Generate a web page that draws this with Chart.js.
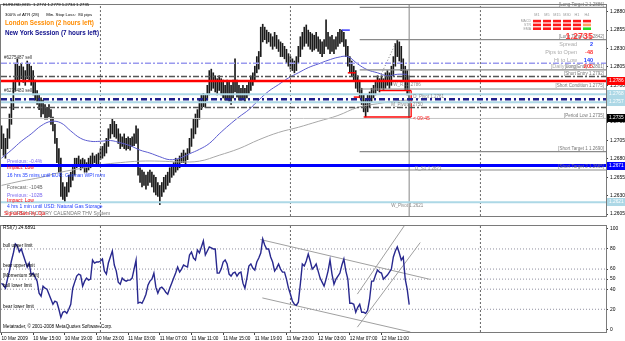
<!DOCTYPE html>
<html><head><meta charset="utf-8">
<script src="https://cdn.jsdelivr.net/npm/chart.js@4.4.1/dist/chart.umd.min.js"></script>
<style>
html,body{margin:0;padding:0;background:#fff;}
#wrap{position:relative;width:625px;height:341px;overflow:hidden;background:#fff;}
#main{position:absolute;left:0;top:0;}
#rsi{position:absolute;left:0;top:221px;}
</style></head><body>
<div id="wrap">
<canvas id="main" width="625" height="221"></canvas>
<canvas id="rsi" width="625" height="120"></canvas>
</div>
<script>
const $ = s => document.querySelector(s);

/* ===== data (EURUSD M15) ===== */
const highs = [
 1.2725,1.2714,1.2708,1.2721,1.2741,1.2760,1.2787,1.2810,1.2816,1.2806,
 1.2810,1.2805,1.2800,1.2813,1.2809,1.2806,1.2800,1.2787,1.2773,1.2767,
 1.2763,1.2760,1.2754,1.2750,1.2754,1.2747,1.2737,1.2727,1.2708,1.2694,
 1.2681,1.2648,1.2642,1.2648,1.2658,1.2662,1.2671,1.2681,1.2681,1.2684,
 1.2679,1.2681,1.2679,1.2675,1.2681,1.2684,1.2688,1.2684,1.2686,
 1.2688,1.2694,1.2697,1.2701,1.2708,1.2721,1.2727,1.2734,1.2731,1.2727,
 1.2721,1.2714,1.2710,1.2714,1.2708,1.2710,1.2708,1.2710,1.2714,1.2725,
 1.2721,1.2668,1.2665,1.2662,1.2658,1.2662,1.2665,1.2662,1.2658,1.2655,
 1.2648,1.2644,1.2648,1.2655,1.2658,1.2662,1.2668,1.2671,1.2675,1.2681,
 1.2679,1.2684,1.2688,1.2692,1.2688,1.2694,1.2708,1.2721,1.2734,1.2741,
 1.2747,1.2760,1.2767,1.2769,1.2767,1.2780,1.2800,1.2802,1.2797,1.2793,
 1.2789,1.2793,1.2789,1.2787,1.2780,1.2787,1.2784,1.2780,1.2787,1.2816,
 1.2787,1.2780,1.2776,1.2780,1.2776,1.2780,1.2784,1.2793,1.2797,1.2806,
 1.2819,1.2826,1.2859,1.2863,1.2859,1.2855,1.2852,1.2850,1.2846,1.2852,
 1.2848,1.2842,1.2839,1.2837,1.2833,1.2829,1.2823,1.2819,1.2816,1.2813,
 1.2819,1.2833,1.2846,1.2852,1.2859,1.2862,1.2855,1.2852,1.2850,1.2848,
 1.2852,1.2846,1.2842,1.2839,1.2842,1.2869,1.2852,1.2846,1.2848,1.2842,
 1.2846,1.2852,1.2856,1.2855,1.2852,1.2842,1.2833,1.2819,1.2813,1.2806,
 1.2800,1.2793,1.2787,1.2776,1.2767,1.2760,1.2767,1.2771,1.2776,1.2780,
 1.2787,1.2793,1.2789,1.2793,1.2789,1.2797,1.2800,1.2797,1.2806,1.2819,
 1.2837,1.2842,1.2839,1.2833,1.2816,1.2806,1.2800,1.2793
];
const lows = [
 1.2694,1.2685,1.2681,1.2694,1.2708,1.2727,1.2747,1.2773,1.2787,1.2780,
 1.2789,1.2784,1.2780,1.2789,1.2787,1.2780,1.2767,1.2760,1.2754,1.2747,
 1.2737,1.2741,1.2734,1.2734,1.2737,1.2727,1.2718,1.2701,1.2675,1.2662,
 1.2629,1.2625,1.2622,1.2629,1.2635,1.2642,1.2651,1.2658,1.2668,1.2671,
 1.2665,1.2668,1.2662,1.2662,1.2665,1.2668,1.2671,1.2675,1.2672,
 1.2671,1.2679,1.2681,1.2684,1.2688,1.2697,1.2708,1.2714,1.2710,1.2708,
 1.2701,1.2694,1.2697,1.2694,1.2692,1.2694,1.2692,1.2697,1.2698,1.2701,
 1.2658,1.2648,1.2642,1.2644,1.2639,1.2644,1.2648,1.2642,1.2635,1.2631,
 1.2629,1.2618,1.2629,1.2635,1.2639,1.2644,1.2648,1.2655,1.2658,1.2662,
 1.2665,1.2668,1.2675,1.2675,1.2671,1.2679,1.2688,1.2697,1.2708,1.2714,
 1.2723,1.2734,1.2747,1.2751,1.2750,1.2760,1.2767,1.2773,1.2776,1.2771,
 1.2767,1.2773,1.2767,1.2763,1.2760,1.2760,1.2758,1.2754,1.2763,1.2771,
 1.2764,1.2760,1.2760,1.2763,1.2758,1.2763,1.2767,1.2773,1.2780,1.2787,
 1.2797,1.2802,1.2819,1.2839,1.2842,1.2837,1.2839,1.2833,1.2829,1.2833,
 1.2830,1.2826,1.2819,1.2819,1.2816,1.2810,1.2806,1.2802,1.2800,1.2797,
 1.2800,1.2810,1.2819,1.2829,1.2833,1.2837,1.2833,1.2829,1.2826,1.2828,
 1.2830,1.2826,1.2823,1.2819,1.2823,1.2833,1.2829,1.2823,1.2826,1.2823,
 1.2829,1.2833,1.2837,1.2839,1.2833,1.2819,1.2806,1.2797,1.2793,1.2787,
 1.2776,1.2771,1.2763,1.2754,1.2744,1.2737,1.2744,1.2750,1.2758,1.2763,
 1.2767,1.2773,1.2771,1.2776,1.2773,1.2776,1.2780,1.2776,1.2780,1.2793,
 1.2806,1.2819,1.2813,1.2800,1.2787,1.2773,1.2767,1.2735
];
const rsi = [
 46,44,41,50,58,68,76,85,83,77, 80,74,68,62,66,54,56,52,48,36,
 33,43,41,40,35,30,25,28,27,20, 12,17,18,16,20,25,41,47,53,55,
 54,43,48,51,49,50,69,66,67, 67,68,70,58,55,66,72,78,64,58,
 47,45,51,49,48,49,49,51,60,69, 26,27,26,30,35,44,48,50,56,42,
 36,41,42,40,37,35,41,46,51,56, 62,57,60,64,63,62,74,77,71,69,
 79,76,82,88,74,78,82,81,80,80, 56,56,60,67,69,65,55,53,56,57,
 53,56,57,46,41,51,63,65,61,59, 67,71,76,90,84,80,80,72,67,58,
 61,65,60,57,57,50,41,35,28,25, 24,27,45,65,63,68,75,68,60,62,
 65,58,51,47,43,50,58,69,55,45, 50,53,56,64,70,58,50,26,26,25,
 17,22,25,17,17,16,19,30,48,48, 54,59,57,56,50,52,54,57,60,72,
 78,82,76,69,72,50,40,24.6891
];
const blueIdx = [0,5,10,15,20,25,30,35,40,45,50,55,60,65,70,75,80,85,90,95,100,105,110,115,120,125,130,135,140,145,150,155,160,165,170,175,180,185,190,195,200,205];
const blueMA = [1.2681,1.2692,1.2704,1.2714,1.2725,1.2731,1.2729,1.2718,1.2708,1.2704,1.2704,1.2705,1.2702,1.2698,1.2692,1.2688,1.2683,1.2679,1.2681,1.2687,1.2693,1.2701,1.2714,1.2726,1.2737,1.2747,1.2760,1.2772,1.2781,1.2790,1.2797,1.2804,1.2809,1.2814,1.2818,1.2819,1.2809,1.2801,1.2797,1.2793,1.2795,1.2795];
const greyIdx = [0,10,20,30,40,50,60,70,80,90,100,110,120,130,140,150,160,170,180,190,200,206];
const greyMA = [1.2644,1.2650,1.2655,1.2662,1.2667,1.2672,1.2675,1.2677,1.2677,1.2676,1.2677,1.2685,1.2694,1.2706,1.2716,1.2723,1.2731,1.2739,1.2750,1.2755,1.2759,1.2760];

const priceTicks = [1.2880,1.2855,1.2830,1.2805,1.2780,1.2755,1.2730,1.2705,1.2680,1.2655,1.2630,1.2605];
const rsiTicks = [0,20,40,50,60,80,100];
const rsiLevels = [80,60,50,40,20];
const rsiLevelNames = ['bull upper limit','bear upper limit','[Momentum Shift]','bull lower limit','bear lower limit'];
const timeBars = [0,16,32,48,64,80,96,112,128,144,160,176,192];
const timeLabels = ['10 Mar 2009','10 Mar 15:00','10 Mar 19:00','10 Mar 23:00','11 Mar 03:00','11 Mar 07:00','11 Mar 11:00','11 Mar 15:00','11 Mar 19:00','11 Mar 23:00','12 Mar 03:00','12 Mar 07:00','12 Mar 11:00'];
const gridBars = [50,146,242];
const lastBar = 206;

const fullLevels = [1.2810,1.2792,1.2786,1.2768,1.2761,1.2757,1.2750,1.2735,1.2671,1.2621];
const fullNames  = ['','[Short Entry 1.2792]','','','','','','[Period Low 1.2735]','',''];
const partLevels = [1.2886,1.2842,1.2801,1.2775,1.2690,1.2665];
const partNames  = ['Long Target 2','Long Target 1','Long Entry','Short Condition','Short Target 1','Short Target 2'];
const pivotNames = ['W_R1','D_Pivot','M_Pivot','D_S1','W_Pivot'];
const pivotValues = [1.2786,1.2761,1.2750,1.2671,1.2621];
const axisMarks = [1.2786,1.2768,1.2757,1.2735,1.2671,1.2621];

const rangeBox = {from:183, mid:191, to:207, lo:1.2737, hi:1.2773};
const trendMain = [[188,1.2773],[200,1.2842]];
const rsiTrends = [[130.8,89.4,216.7,49.7],[131.8,31.3,206.6,-2.6],[179.8,35.1,203.5,103],[179.8,2.2,211.6,86.4]];

const tfNames = ['M1','M5','M15','M30','H1','H4'];
const sigRows = ['MACD','STR','EMA'];
const sigState = [[-1,-1,-1,-1,-1,-1],[-1,-1,-1,-1,-1,0],[-1,-1,-1,-1,-1,1]];

/* ===== styles ===== */
const X_MIN = -0.25, X_MAX = 305.45;
const P_MIN = 1.26024, P_MAX = 1.28892;
const R_MIN = -2.6, R_MAX = 102.9;
const FF = '"Liberation Sans", Arial, sans-serif';
const LB = '#add8e6';
const fullStyles = [
 ['#9a9aee',1.5,[6,2,2,2]], ['#555',1.5,[6,2,2,2]], ['#ff0000',2.5,[]], [LB,2,[]],
 ['#1e1e8c',2.5,[6,3,2,3]], [LB,2,[]], ['#555',1.5,[6,2,2,2]], ['#c4c4c4',1,[]],
 ['#0000ff',3,[]], [LB,2,[]]
];
const axisColors = ['#ff0000',LB,LB,'#000','#0000ff',LB];

const hl = (y,x0,x1,c,w,d,o) => ({type:'line',data:[{x:x0,y},{x:x1,y}],borderColor:c,borderWidth:w,borderDash:d||[],pointRadius:0,fill:false,order:o||1});
const vl = (x,y0,y1,c,w,d,o) => ({type:'line',data:[{x,y:y0},{x,y:y1}],borderColor:c,borderWidth:w,borderDash:d||[],pointRadius:0,fill:false,order:o||1});

function txt(ctx,s,x,y,c,f,al){
  ctx.fillStyle=c; ctx.font=f+' '+FF; ctx.textAlign=al||'left'; ctx.textBaseline='middle'; ctx.fillText(s,x,y);
}

const frame = {
  id:'frame',
  afterDraw(ch){
    const a=ch.chartArea, c=ch.ctx;
    c.save(); c.strokeStyle='#7a7a7a'; c.lineWidth=1;
    c.strokeRect(Math.round(a.left)-0.5,Math.round(a.top)-0.5,Math.round(a.right-a.left)+1,Math.round(a.bottom-a.top)+1);
    c.restore();
  }
};

/* ===== main price panel ===== */
const mainNotes = [
 ['EURUSD,M15  1.2774 1.2779 1.2734 1.2735',3,5,'#000','4.3px'],
 ['300% of ATR (28)      Min. Stop Loss:  80 pips',5,15,'#000','4.3px'],
 ['London Session (2 hours left)',5,23.5,'#ff8c00','bold 6.3px'],
 ['New York Session (7 hours left)',5,33.5,'#0c0c8a','bold 6.3px'],
 ['#6275487 sell',4,58,'#333','4.5px'],
 ['#6275483 sell',4,91,'#333','4.5px'],
 ['Previous: -0.4%',7,162,'#7b68ee','5px'],
 ['Impact: Low',7,168,'#ff0000','5px'],
 ['16 hrs 35 mins until EUR: German WPI m/m',7,175.5,'#1e3cff','5px'],
 ['Forecast: -104B',7,188,'#666','5px'],
 ['Previous: -102B',7,195.5,'#7b68ee','5px'],
 ['Impact: Low',7,201,'#ff0000','5px'],
 ['4 hrs 1 min until USD: Natural Gas Storage',7,207,'#1e3cff','5px'],
 ['© FOREX FACTORY CALENDAR THV System',5,213.5,'#777','5px'],
 ['Signal Bars by Cja',4,213.5,'#ff2020','5px'],
 ['< 09:45',413,119,'#ff2020','5px']
];
const infoRows = [['Spread','2','#1e3cff',44],['Pips to Open','-48','#ff3030',52],['Hi to Low','140','#1e3cff',60],['[Daily Avg]','205','#ff3030',66.5]];

const mainDeco = {
  id:'mainDeco',
  afterDraw(ch){
    const c=ch.ctx, ys=ch.scales.y, xs=ch.scales.x, a=ch.chartArea;
    c.save();
    // value boxes on price axis
    axisMarks.forEach((p,i)=>{
      const y=Math.round(ys.getPixelForValue(p));
      c.fillStyle=axisColors[i]; c.fillRect(a.right+1,y-4,18,8);
      txt(c,p.toFixed(4),a.right+3,y,'#fff','4.8px');
    });
    // level captions
    partLevels.forEach((p,i)=>txt(c,'['+partNames[i]+' '+p.toFixed(4)+']',604,ys.getPixelForValue(p)-3,'#777','4.5px','right'));
    fullLevels.forEach((p,i)=>{ if(fullNames[i]) txt(c,fullNames[i],604,ys.getPixelForValue(p)-3,'#777','4.5px','right'); });
    const pvx=[198,208,197,209,197], pvd=[3.5,-2.5,-3,3.5,3.5];
    pivotValues.forEach((p,i)=>txt(c,pivotNames[i]+' '+p.toFixed(4),xs.getPixelForValue(pvx[i]),ys.getPixelForValue(p)+pvd[i],'#888','4.5px'));
    // info block
    txt(c,'1.2735',593,37,'#ff3b3b','bold 9px','right');
    infoRows.forEach(r=>{ txt(c,r[0],577,r[3],'#aaa','5.5px','right'); txt(c,r[1],593,r[3],r[2],'bold 5.5px','right'); });
    tfNames.forEach((t,k)=>txt(c,t,537+k*10,15,'#999','3.8px','center'));
    sigRows.forEach((r,j)=>{
      txt(c,r,531,21+j*3.8,'#999','3.5px','right');
      sigState[j].forEach((s,k)=>{
        c.fillStyle = s<0 ? '#ff1a1a' : (s>0 ? '#22dd22' : '#ffa060');
        c.fillRect(533+k*10,19.8+j*3.8,8,2.6);
      });
    });
    mainNotes.forEach(n=>txt(c,n[0],n[1],n[2],n[3],n[4]));
    c.restore();
  }
};

const mainSets = [];
fullLevels.forEach((p,i)=>mainSets.push(hl(p,X_MIN,X_MAX,fullStyles[i][0],fullStyles[i][1],fullStyles[i][2],1)));
partLevels.forEach(p=>mainSets.push(hl(p,181,X_MAX,'#8a8a8a',1.2,[],1)));
gridBars.forEach(b=>mainSets.push(vl(b,P_MIN,P_MAX,'#666',1,[2,2],2)));
mainSets.push(vl(lastBar,P_MIN,P_MAX,'#9a9a9a',1.2,[],2));
mainSets.push(hl(rangeBox.lo,rangeBox.from,rangeBox.to,'#ff0000',1.3,[],1));
mainSets.push(hl(rangeBox.hi,rangeBox.mid,rangeBox.to,'#ff0000',1.3,[],1));
mainSets.push(vl(rangeBox.to,rangeBox.lo,rangeBox.hi,'#ff0000',1.3,[],1));
mainSets.push(hl(1.2855,172,176,'#3a3aff',1.5,[],1));
mainSets.push(hl(1.2797,175,179,'#ff0000',1.5,[],1));
mainSets.push(hl(1.2764,178,181,'#ff0000',1.5,[],1));
mainSets.push({type:'line',data:trendMain.map(d=>({x:d[0],y:d[1]})),borderColor:'#777',borderWidth:1,borderDash:[1,2],pointRadius:0,fill:false,order:1});
mainSets.push({type:'line',data:blueIdx.map((x,k)=>({x,y:blueMA[k]})),borderColor:'#5c5cd0',borderWidth:1,tension:0.4,pointRadius:0,fill:false,order:3});
mainSets.push({type:'line',data:greyIdx.map((x,k)=>({x,y:greyMA[k]})),borderColor:'#a8a8a8',borderWidth:1,tension:0.4,pointRadius:0,fill:false,order:3});
mainSets.push({type:'bar',data:highs.map((h,i)=>({x:i,y:[lows[i],h]})),backgroundColor:'#1a1a1a',borderWidth:0,barThickness:1,order:5});

new Chart($('#main'),{
  type:'bar',
  data:{datasets:mainSets},
  options:{
    responsive:false, animation:false, events:[],
    layout:{padding:{left:1,top:2,right:0,bottom:1}},
    plugins:{legend:{display:false},tooltip:{enabled:false}},
    scales:{
      x:{type:'linear',display:false,min:X_MIN,max:X_MAX,offset:false},
      y:{position:'right',min:P_MIN,max:P_MAX,
         afterFit:s=>{s.width=19;},
         afterBuildTicks:s=>{s.ticks=priceTicks.map(v=>({value:v}));},
         ticks:{callback:v=>v.toFixed(4),font:{size:4.9,family:FF},color:'#000',padding:2,autoSkip:false},
         grid:{drawOnChartArea:false,tickLength:2,color:'#444'},
         border:{color:'#777'}}
    }
  },
  plugins:[frame,mainDeco]
});

/* ===== RSI panel ===== */
const rsiDeco = {
  id:'rsiDeco',
  afterDraw(ch){
    const c=ch.ctx, ys=ch.scales.y;
    c.save();
    txt(c,'RSI(7) 24.6891',3,7,'#000','4.8px');
    rsiLevels.forEach((v,i)=>txt(c,rsiLevelNames[i],3,ys.getPixelForValue(v)-3,'#000','4.6px'));
    txt(c,'Metatrader, © 2001-2008 MetaQuotes Software Corp.',3,106,'#000','4.6px');
    c.restore();
  }
};

const rsiSets = [];
rsiLevels.forEach(v=>rsiSets.push(hl(v,X_MIN,X_MAX,'#8f8f9f',1,[1,2],3)));
gridBars.forEach(b=>rsiSets.push(vl(b,R_MIN,R_MAX,'#666',1,[2,2],3)));
rsiTrends.forEach(t=>rsiSets.push({type:'line',data:[{x:t[0],y:t[1]},{x:t[2],y:t[3]}],borderColor:'#a0a0a0',borderWidth:1,pointRadius:0,fill:false,order:2}));
rsiSets.push({type:'line',data:rsi.map((v,i)=>({x:i,y:v})),borderColor:'#28288e',borderWidth:1.4,pointRadius:0,fill:false,order:1});

new Chart($('#rsi'),{
  type:'line',
  data:{datasets:rsiSets},
  options:{
    responsive:false, animation:false, events:[],
    layout:{padding:{left:1,top:2,right:0,bottom:0}},
    plugins:{legend:{display:false},tooltip:{enabled:false}},
    scales:{
      x:{type:'linear',min:X_MIN,max:X_MAX,offset:false,
         afterFit:s=>{s.height=9;},
         afterBuildTicks:s=>{s.ticks=timeBars.map(v=>({value:v}));},
         ticks:{callback:(v,i)=>timeLabels[i],align:'start',maxRotation:0,autoSkip:false,font:{size:4.7,family:FF},color:'#000',padding:1},
         grid:{drawOnChartArea:false,tickLength:3,color:'#444'},
         border:{color:'#777'}},
      y:{position:'right',min:R_MIN,max:R_MAX,
         afterFit:s=>{s.width=19;},
         afterBuildTicks:s=>{s.ticks=rsiTicks.map(v=>({value:v}));},
         ticks:{callback:v=>String(v),font:{size:4.9,family:FF},color:'#000',padding:2,autoSkip:false},
         grid:{drawOnChartArea:false,tickLength:2,color:'#444'},
         border:{color:'#777'}}
    }
  },
  plugins:[frame,rsiDeco]
});
</script>
</body></html>
